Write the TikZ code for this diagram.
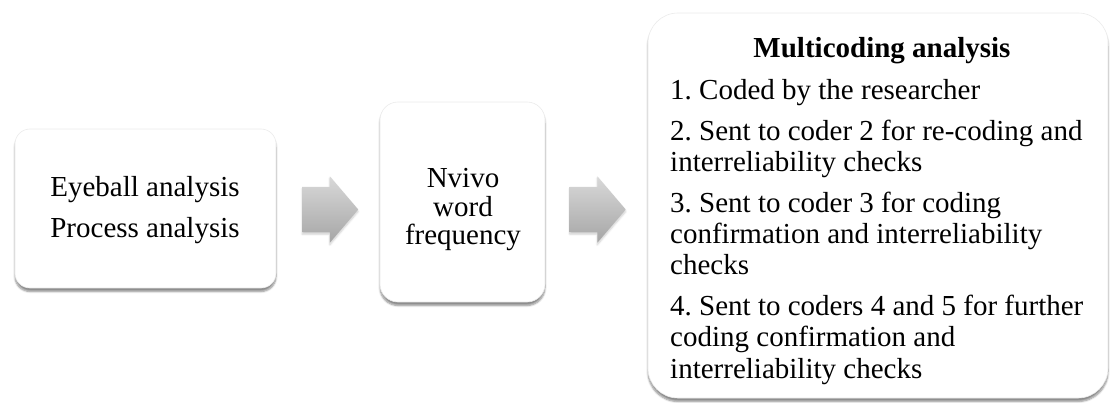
\documentclass[tikz,border=0pt]{standalone}
\usepackage{fontspec}
\setmainfont{Liberation Serif}
\usetikzlibrary{shapes.arrows,shadows.blur}
\frenchspacing
\begin{document}
\begin{tikzpicture}[x=1pt,y=-1pt,
  box/.style={draw=black!8,line width=0.6pt,fill=white,inner sep=0pt,
    blur shadow={shadow xshift=0pt,shadow yshift=-3.5pt,shadow opacity=45,shadow blur steps=6}},
  blockarrow/.style={shape=single arrow,draw=none,inner xsep=0pt,inner ysep=22.5pt,
    top color=black!15,bottom color=black!35,
    blur shadow={shadow xshift=0pt,shadow yshift=-2pt,shadow opacity=20,shadow blur steps=5},
    single arrow head extend=10.5pt,single arrow tip angle=99,
    minimum height=56pt,anchor=tail},
  txt/.style={inner sep=0pt,font=\fontsize{29}{31}\selectfont}]
\useasboundingbox (0,0) rectangle (1114,403);
\node[box,rounded corners=15pt,minimum width=261pt,minimum height=159pt] (b1) at (145.5,208.5) {};
\node[box,rounded corners=18pt,minimum width=165pt,minimum height=200pt] (b2) at (462.5,202) {};
\node[box,rounded corners=30pt,minimum width=460pt,minimum height=385pt] (b3) at (878,205.5) {};
\node[blockarrow] (a1) at (302,209.5) {};
\node[blockarrow] (a2) at (569.5,209.5) {};
% box 1
\node[txt,anchor=base] (t11) at (145,197) {Eyeball analysis};
\node[txt,anchor=base] (t12) at (145,238) {Process analysis};
% box 2
\node[txt,anchor=base] (t21) at (463,188) {Nvivo};
\node[txt,anchor=base] (t22) at (463,217) {word};
\node[txt,anchor=base] (t23) at (463,245) {frequency};
% box 3
\node[txt,anchor=base,font=\fontsize{29}{31}\selectfont\bfseries] (t30) at (882,58) {Multicoding analysis};
\node[txt,anchor=base west] (t31) at (670,100) {1. Coded by the researcher};
\node[txt,anchor=base west] (t32) at (670,141) {2. Sent to coder 2 for re-coding and};
\node[txt,anchor=base west] (t33) at (670,172) {interreliability checks};
\node[txt,anchor=base west] (t34) at (670,213) {3. Sent to coder 3 for coding};
\node[txt,anchor=base west] (t35) at (670,244) {confirmation and interreliability};
\node[txt,anchor=base west] (t36) at (670,275) {checks};
\node[txt,anchor=base west] (t37) at (670,316) {4. Sent to coders 4 and 5 for further};
\node[txt,anchor=base west] (t38) at (670,347) {coding confirmation and};
\node[txt,anchor=base west] (t39) at (670,378) {interreliability checks};
\end{tikzpicture}
\end{document}
